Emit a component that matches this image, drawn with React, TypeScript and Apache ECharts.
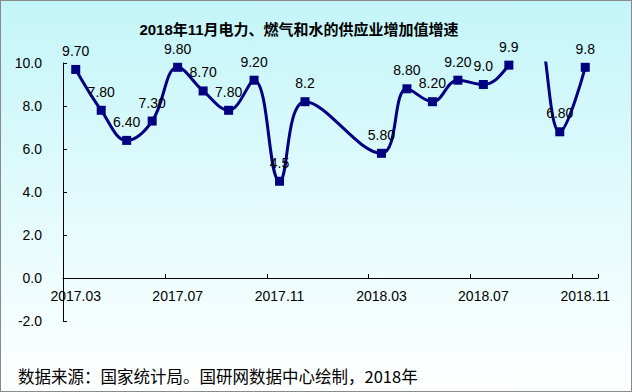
import React, { useEffect, useRef } from "react";
import * as echarts from "echarts";

const categories = [
  "2017.03", "2017.04", "2017.05", "2017.06", "2017.07", "2017.08", "2017.09",
  "2017.10", "2017.11", "2017.12", "2018.01", "2018.02", "2018.03", "2018.04",
  "2018.05", "2018.06", "2018.07", "2018.08", "2018.09", "2018.10", "2018.11",
];
const values: (number | null)[] = [
  9.7, 7.8, 6.4, 7.3, 9.8, 8.7, 7.8, 9.2, 4.5, 8.2, null, null, 5.8, 8.8,
  8.2, 9.2, 9.0, 9.9, 11.8, 6.8, 9.8,
];
const valueLabels = [
  "9.70", "7.80", "6.40", "7.30", "9.80", "8.70", "7.80", "9.20", "4.5", "8.2", "", "",
  "5.80", "8.80", "8.20", "9.20", "9.0", "9.9", "", "6.80", "9.8",
];
const title = "2018年11月电力、燃气和水的供应业增加值增速";
const footer = "数据来源：国家统计局。国研网数据中心绘制，2018年";

export default function App() {
  const ref = useRef<HTMLDivElement>(null);
  useEffect(() => {
    if (!ref.current) return;
    const chart = echarts.init(ref.current, null, { renderer: "svg" });
    chart.setOption({
      animation: false,
      title: {
        text: title,
        left: 294,
        textAlign: "center",
        top: 17,
        textStyle: {
          fontSize: 15,
          fontWeight: "bold",
          color: "#000",
          fontFamily: "Liberation Sans, Noto Sans CJK SC",
        },
      },
      graphic: [
        {
          type: "text",
          left: 18,
          top: 368,
          style: {
            text: footer,
            fontSize: 16.5,
            fill: "#000",
            fontFamily: "Noto Sans CJK SC",
          },
        },
      ],
      grid: { left: 63, right: 34, top: 63, bottom: 71 },
      xAxis: {
        type: "category",
        data: categories,
        boundaryGap: true,
        position: "bottom",
        offset: -43,
        axisLine: { onZero: false, lineStyle: { color: "#000", width: 1 } },
        axisTick: { show: true, inside: true, interval: 3, length: 4, lineStyle: { color: "#000" } },
        axisLabel: {
          interval: 3,
          margin: 11,
          fontSize: 14,
          color: "#000",
          fontFamily: "Liberation Sans",
        },
        splitLine: { show: false },
      },
      yAxis: {
        type: "value",
        min: -2,
        max: 10,
        interval: 2,
        axisLine: { show: true, onZero: false, lineStyle: { color: "#000", width: 1 } },
        axisTick: { show: true, inside: true, length: 4, lineStyle: { color: "#000" } },
        axisLabel: {
          formatter: (v: number) => v.toFixed(1),
          fontSize: 14,
          color: "#000",
          margin: 21,
          fontFamily: "Liberation Sans",
        },
        splitLine: { show: false },
      },
      series: [
        {
          type: "line",
          data: values,
          smooth: 0.4,
          connectNulls: true,
          clip: true,
          symbol: "rect",
          symbolSize: 9,
          lineStyle: { color: "#000080", width: 3 },
          itemStyle: { color: "#000080" },
          label: {
            show: true,
            position: "top",
            distance: 7,
            fontSize: 14,
            color: "#000",
            fontFamily: "Liberation Sans",
            formatter: (p: any) => valueLabels[p.dataIndex],
          },
        },
      ],
    });
    return () => chart.dispose();
  }, []);
  return (
    <div
      style={{
        position: "fixed",
        left: 0,
        top: 0,
        width: 632,
        height: 392,
        boxSizing: "border-box",
        border: "1px solid #8a8a8a",
        background: "linear-gradient(to bottom, #c4f5f9 0%, #e4fbfc 55%, #ffffff 100%)",
      }}
    >
      <div ref={ref} style={{ position: "absolute", left: -1, top: -1, width: 632, height: 392 }} />
    </div>
  );
}
